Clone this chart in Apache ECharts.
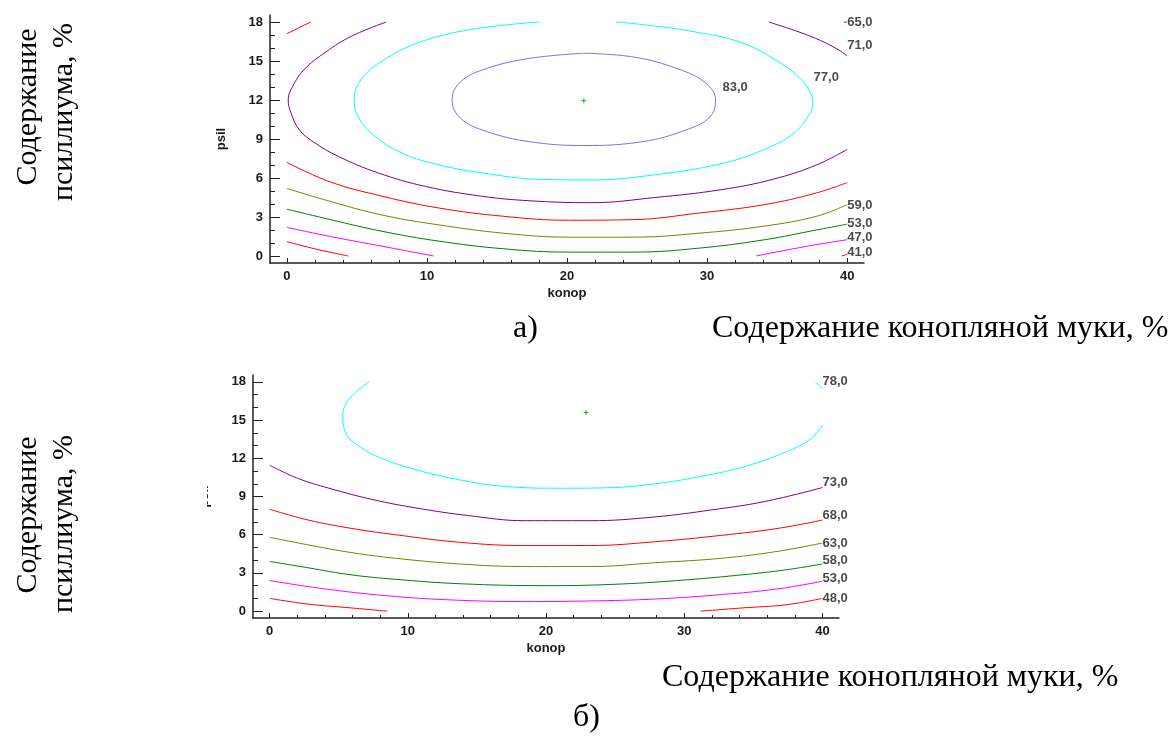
<!DOCTYPE html>
<html>
<head>
<meta charset="utf-8">
<title>contours</title>
<script src="https://cdn.jsdelivr.net/npm/echarts@6/dist/echarts.min.js"></script>
<style>
    html, body { margin: 0; padding: 0; background: #fff; }
    #chart { width: 1173px; height: 736px; }
</style>
</head>
<body>
<div id="chart"></div>
<script>
// ticks
var xTicks = [0, 10, 20, 30, 40];
var xMinor = [2, 4, 6, 8, 12, 14, 16, 18, 22, 24, 26, 28, 32, 34, 36, 38];
var yTicks = [0, 3, 6, 9, 12, 15, 18];
var yMinor = [1, 2, 4, 5, 7, 8, 10, 11, 13, 14, 16, 17];

// colours of the levels
var cRed = '#ff0000', cMag = '#ff00ff', cGreen = '#008000', cOlive = '#808000',
    cPurple = '#800080', cCyan = '#00ffff', cBlue = '#7575e0';

// а) contour lines [konop, psil]
var a83 = [[21.2,15.6],[24.8,15.3],[27.9,14.4],[29.9,13.3],[30.6,12.0],[30.2,10.7],[28.5,9.7],[25.4,8.8],[21.2,8.5],[17.3,8.8],[14.2,9.6],[12.4,10.6],[11.8,12.0],[12.4,13.4],[14.2,14.4],[17.3,15.2],[21.2,15.6]];
var a77 = [[18.0,18.0],[13.6,17.5],[9.9,16.6],[7.1,15.2],[5.4,13.7],[4.8,12.0],[5.1,10.7],[6.2,9.3],[8.05,8.0],[10.5,7.1],[13.9,6.4],[18.0,5.9],[21.7,5.85],[26.3,6.25],[31.0,7.1],[34.1,8.2],[36.2,9.45],[37.3,10.9],[37.55,11.8],[37.3,12.7],[36.6,13.7],[35.3,14.8],[32.5,16.4],[28.8,17.3],[25.4,17.8],[23.5,18.0]];
var a71L = [[7.1,18.0],[4.6,16.9],[2.8,15.7],[1.2,14.3],[0.3,12.8],[0.1,12.0],[0.3,11.0],[0.9,9.7],[2.0,8.7],[3.7,7.65],[6.5,6.4],[9.9,5.35],[13.9,4.6],[17.3,4.25],[21.7,4.1],[26.3,4.5],[31.0,5.1],[34.7,5.9],[37.8,7.0],[40,8.2]];
var a71R = [[34.4,18.0],[37.15,17.0],[39.0,16.1],[40,15.4]];
var a65T = [[0,17.1],[1.7,18]];
var a65R = [[39.75,17.98],[40,18]];
var a65B = [[0,7.2],[3.1,5.7],[6.8,4.6],[10.8,3.7],[15.5,3.05],[20.1,2.75],[24.8,2.8],[29.4,3.3],[34.1,3.95],[37.8,4.85],[40,5.65]];
var a59 = [[0,5.2],[3.1,4.2],[6.8,3.15],[10.8,2.4],[15.5,1.75],[20.1,1.45],[24.8,1.45],[29.4,1.75],[34.1,2.3],[37.8,3.05],[40,3.95]];
var a53 = [[0,3.6],[3.1,2.8],[6.8,1.9],[10.8,1.15],[15.5,0.55],[20.1,0.3],[24.8,0.3],[29.4,0.6],[34.1,1.25],[37.8,2.0],[40,2.45]];
var a47L = [[0,2.2],[3.1,1.5],[6.8,0.75],[10.5,0]];
var a47R = [[33.5,0],[37.15,0.75],[40,1.25]];
var a41L = [[0,1.1],[2.2,0.5],[4.4,0]];
var a41R = [[39.6,0],[40,0.12]];
var aCenter = [[21.2, 11.95]];
var aLabels = [['65,0',40,18.0],['71,0',40,16.2],['77,0',37.6,13.7],['83,0',31.1,13.0],['59,0',40,3.9],['53,0',40,2.5],['47,0',40,1.4],['41,0',40,0.3]];

// б) contour lines
var b78L = [[7.2,18],[5.8,16.7],[5.3,15.4],[5.45,14.1],[6.55,12.9],[8.1,12.0],[10.6,11.1],[13.8,10.3],[16.9,9.8],[21.0,9.65],[24.8,9.7],[27.9,10.0],[31.1,10.55],[34.2,11.3],[36.8,12.25],[39.0,13.4],[40,14.6]];
var b78R = [[39.5,18],[40,17.45]];
var b73 = [[0,11.45],[2.1,10.4],[4.3,9.65],[7.5,8.75],[10.6,8.1],[14.4,7.5],[18.5,7.1],[23.2,7.1],[27.9,7.4],[32.0,7.95],[35.8,8.6],[40,9.7]];
var b68 = [[0,8.0],[2.8,7.15],[5.9,6.5],[9.1,6.0],[13.8,5.4],[18.5,5.15],[23.2,5.15],[27.9,5.45],[32.7,5.95],[36.8,6.5],[40,7.15]];
var b63 = [[0,5.8],[2.8,5.2],[5.9,4.6],[9.1,4.15],[13.8,3.7],[18.5,3.5],[23.2,3.5],[27.9,3.8],[32.7,4.15],[36.8,4.7],[40,5.35]];
var b58 = [[0,3.9],[2.8,3.4],[5.9,2.85],[9.1,2.5],[13.8,2.15],[20.1,2.0],[24.8,2.1],[29.5,2.4],[34.2,2.85],[37.4,3.25],[40,3.7]];
var b53 = [[0,2.4],[4.3,1.7],[9.1,1.15],[13.8,0.85],[18.5,0.75],[23.2,0.8],[27.9,0.95],[32.7,1.3],[36.8,1.75],[40,2.35]];
var b48L = [[0,1.0],[2.8,0.55],[5.9,0.25],[8.5,0]];
var b48R = [[31.2,0],[34.2,0.25],[37.4,0.5],[40,1.0]];
var bCenter = [[22.9, 15.6]];
var bLabels = [['78,0',40,18.0],['73,0',40,10.1],['68,0',40,7.5],['63,0',40,5.35],['58,0',40,3.95],['53,0',40,2.55],['48,0',40,1.0]];

var tickFont = 'Liberation Sans, Arial, sans-serif';
var docFont = 'Liberation Serif, Times New Roman, serif';
var ink = '#1a1a1a';

function mainX(g) {
    return {
        type: 'value', gridIndex: g, min: -1.2, max: 41.2, position: 'bottom',
        name: 'konop', nameLocation: 'middle', nameGap: 24,
        nameTextStyle: { fontFamily: tickFont, fontWeight: 'bold', fontSize: 13, color: ink },
        axisLine: { show: true, onZero: false, lineStyle: { color: '#222', width: 1.5 } },
        axisTick: { show: true, inside: true, length: 5, customValues: xTicks, lineStyle: { color: '#222' } },
        axisLabel: { customValues: xTicks, fontFamily: tickFont, fontWeight: 'bold', fontSize: 13, color: ink, margin: 7 },
        splitLine: { show: false }
    };
}
function minorX(g) {
    return {
        type: 'value', gridIndex: g, min: -1.2, max: 41.2, position: 'bottom',
        axisLine: { show: false, onZero: false },
        axisTick: { show: true, inside: true, length: 3, customValues: xMinor, lineStyle: { color: '#222' } },
        axisLabel: { show: false }, splitLine: { show: false }
    };
}
function mainY(g) {
    return {
        type: 'value', gridIndex: g, min: -0.54, max: 18.54, position: 'left',
        name: 'psil', nameLocation: 'middle', nameGap: 42, nameRotate: 90,
        nameTextStyle: { fontFamily: tickFont, fontWeight: 'bold', fontSize: 13, color: ink },
        axisLine: { show: true, onZero: false, lineStyle: { color: '#222', width: 1.5 } },
        axisTick: { show: true, inside: true, length: 10, customValues: yTicks, lineStyle: { color: '#222' } },
        axisLabel: { customValues: yTicks, fontFamily: tickFont, fontWeight: 'bold', fontSize: 13, color: ink, margin: 7 },
        splitLine: { show: false }
    };
}
function minorY(g) {
    return {
        type: 'value', gridIndex: g, min: -0.54, max: 18.54, position: 'left',
        axisLine: { show: false, onZero: false },
        axisTick: { show: true, inside: true, length: 5, customValues: yMinor, lineStyle: { color: '#222' } },
        axisLabel: { show: false }, splitLine: { show: false }
    };
}

function contour(g, data, color) {
    return {
        type: 'line', xAxisIndex: g * 2, yAxisIndex: g * 2, data: data,
        showSymbol: false, symbol: 'none', smooth: 0.4, silent: true,
        lineStyle: { color: color, width: 1 }
    };
}
function levelLabels(g, list) {
    var data = [];
    for (var i = 0; i < list.length; i++) {
        data.push({ name: list[i][0], value: [list[i][1], list[i][2]] });
    }
    return {
        type: 'scatter', xAxisIndex: g * 2, yAxisIndex: g * 2, data: data, symbolSize: 0, silent: true,
        label: { show: true, position: 'right', distance: 0, formatter: '{b}',
            fontFamily: tickFont, fontWeight: 'bold', fontSize: 13, color: ink }
    };
}
function center(g, data) {
    return {
        type: 'scatter', xAxisIndex: g * 2, yAxisIndex: g * 2, data: data, silent: true,
        symbol: 'path://M0,2h5v1h-5z M2,0h1v5h-1z', symbolSize: 5,
        itemStyle: { color: '#008000' }
    };
}

var series = [
    contour(0, a41L, cRed), contour(0, a41R, cRed),
    contour(0, a47L, cMag), contour(0, a47R, cMag),
    contour(0, a53, cGreen), contour(0, a59, cOlive),
    contour(0, a65B, cRed), contour(0, a65T, cRed), contour(0, a65R, cRed),
    contour(0, a71L, cPurple), contour(0, a71R, cPurple),
    contour(0, a77, cCyan), contour(0, a83, cBlue),
    center(0, aCenter), levelLabels(0, aLabels),

    contour(1, b48L, cRed), contour(1, b48R, cRed),
    contour(1, b53, cMag), contour(1, b58, cGreen), contour(1, b63, cOlive),
    contour(1, b68, cRed), contour(1, b73, cPurple),
    contour(1, b78L, cCyan), contour(1, b78R, cCyan),
    center(1, bCenter), levelLabels(1, bLabels)
];

// rotated caption, x/y is the middle of the line
function vText(x, y, text) {
    return { type: 'text', x: x, y: y, rotation: Math.PI / 2,
        style: { text: text, font: '30px ' + docFont, fill: '#000', align: 'center', verticalAlign: 'middle' } };
}
function hText(x, y, text) {
    return { type: 'text', x: x, y: y,
        style: { text: text, font: '32px ' + docFont, fill: '#000', align: 'left', verticalAlign: 'middle' } };
}

var myChart = echarts.init(document.getElementById('chart'));
var option = {
    animation: false,
    backgroundColor: '#fff',
    grid: [
        { left: 270, right: 309, top: 15, bottom: 473, outerBoundsMode: 'none' },
        { left: 253, right: 334, top: 375, bottom: 118, outerBoundsMode: 'none' }
    ],
    xAxis: [mainX(0), minorX(0), mainX(1), minorX(1)],
    yAxis: [mainY(0), minorY(0), mainY(1), minorY(1)],
    series: series,
    graphic: [
        vText(28, 107, 'Содержание'),
        vText(64, 112, 'псиллиума, %'),
        vText(28, 515, 'Содержание'),
        vText(64, 524, 'псиллиума, %'),
        hText(513, 329, 'а)'),
        hText(712, 329, 'Содержание конопляной муки, %'),
        hText(573, 718, 'б)'),
        hText(662, 678, 'Содержание конопляной муки, %'),
        // the б) axis name is half hidden in the source
        { type: 'rect', z: 100, shape: { x: 188, y: 478, width: 19, height: 40 }, style: { fill: '#fff' } }
    ]
};
myChart.setOption(option);
</script>
</body>
</html>
